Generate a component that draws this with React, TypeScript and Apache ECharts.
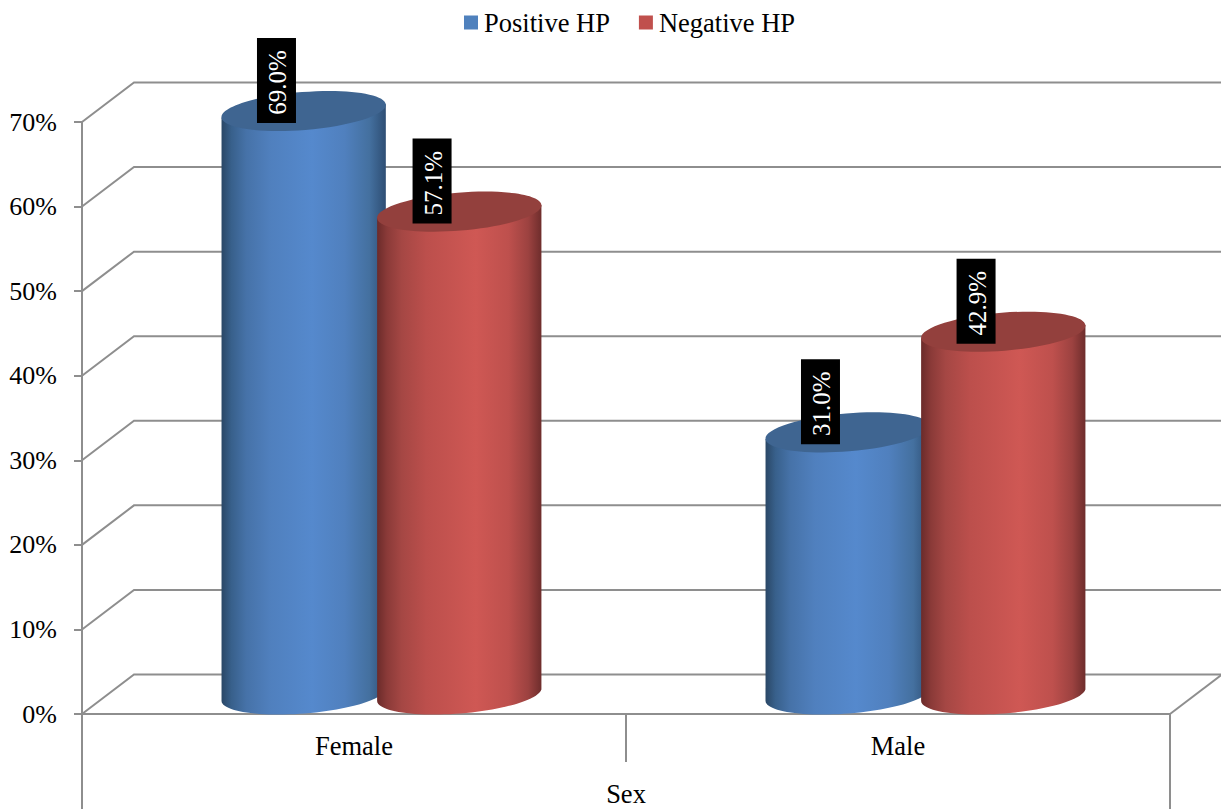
import React, { useEffect, useRef } from "react";
import * as echarts from "echarts";

const categories = ["Female", "Male"];
const positiveHp = [69.0, 31.0];
const negativeHp = [57.1, 42.9];
const gridValues = [0, 10, 20, 30, 40, 50, 60, 70];
const axisName = "Sex";
const seriesNames = ["Positive HP", "Negative HP"];

const FONT = '"Liberation Serif", "Times New Roman", serif';
const FONT_SIZE = 26.5;
const LINE = "#8e8e8e";
const DEPTH_X = 52;
const DEPTH_Y = -39.5;

type Palette = { swatch: string; cap: string; stops: [number, string][] };

const blue: Palette = {
  swatch: "#4F81BD",
  cap: "#3F6591",
  stops: [
    [0, "#2A4766"],
    [0.06, "#38608B"],
    [0.15, "#4672A8"],
    [0.3, "#5080BE"],
    [0.55, "#5589CD"],
    [0.75, "#5080BE"],
    [0.9, "#44709F"],
    [1, "#2E4E74"],
  ],
};

const red: Palette = {
  swatch: "#C0504D",
  cap: "#93403D",
  stops: [
    [0, "#6B2B2A"],
    [0.06, "#8A3A38"],
    [0.15, "#A54744"],
    [0.3, "#BC4F4C"],
    [0.6, "#CF5854"],
    [0.8, "#BE504D"],
    [0.92, "#9C4240"],
    [1, "#6E2D2C"],
  ],
};

// One cylinder plus its rotated value tag; shift moves it inside the category band.
function cylinder(palette: Palette, shift: number) {
  return (_params: any, api: any) => {
    const index = api.value(0);
    const value = api.value(1);
    const band = api.size([1, 0])[0];
    const [cx0, yTop] = api.coord([index, value]);
    const [, yBase] = api.coord([index, 0]);

    const rx = band * 0.1515;
    const ry = 19;
    const tilt = (-4.6 * Math.PI) / 180;
    const cx = cx0 + band * shift;
    const lift = -19.5;
    const topY = yTop + lift;
    const baseY = yBase + lift;
    const cosA = Math.cos(tilt);
    const sinA = Math.sin(tilt);

    // Outline: down the left side, round the lower rim, back up the right side.
    const outline: number[][] = [[cx - rx * cosA, topY - rx * sinA]];
    const steps = 48;
    for (let i = 0; i <= steps; i++) {
      const t = Math.PI - (Math.PI * i) / steps;
      outline.push([
        cx + rx * Math.cos(t) * cosA - ry * Math.sin(t) * sinA,
        baseY + rx * Math.cos(t) * sinA + ry * Math.sin(t) * cosA,
      ]);
    }
    outline.push([cx + rx * cosA, topY + rx * sinA]);

    const tagX = cx - band * 0.05;
    const tagY = yTop - 50;

    return {
      type: "group",
      children: [
        {
          type: "polygon",
          shape: { points: outline },
          style: {
            fill: new echarts.graphic.LinearGradient(
              0,
              0,
              1,
              0,
              palette.stops.map(([offset, color]) => ({ offset, color }))
            ),
          },
        },
        {
          type: "ellipse",
          x: cx,
          y: topY,
          rotation: -tilt,
          shape: { cx: 0, cy: 0, rx, ry },
          style: { fill: palette.cap },
        },
        {
          type: "rect",
          shape: { x: tagX - 19.5, y: tagY - 42.5, width: 39, height: 85 },
          style: { fill: "#000000" },
          z2: 10,
        },
        {
          type: "text",
          x: tagX + 1,
          y: tagY + 2,
          rotation: Math.PI / 2,
          z2: 11,
          style: {
            text: value.toFixed(1) + "%",
            fill: "#ffffff",
            font: `25px ${FONT}`,
            align: "center",
            verticalAlign: "middle",
          },
        },
      ],
    };
  };
}

// Back wall and floor lines, the diagonal depth edges and the outer frame verticals.
function wallLine(_params: any, api: any) {
  const value = api.value(1);
  const band = api.size([1, 0])[0];
  const [center, y] = api.coord([0, value]);
  const left = center - band / 2;
  const right = left + band * categories.length;
  const lineStyle = { stroke: LINE, lineWidth: 2, fill: "none" };
  const children: any[] = [
    {
      type: "polyline",
      shape: {
        points: [
          [left, y],
          [left + DEPTH_X, y + DEPTH_Y],
          [right + DEPTH_X, y + DEPTH_Y],
        ],
      },
      style: lineStyle,
    },
  ];
  if (value === 0) {
    const bottom = 809;
    children.push(
      {
        type: "line",
        shape: { x1: right, y1: y, x2: right + DEPTH_X, y2: y + DEPTH_Y },
        style: lineStyle,
      },
      { type: "line", shape: { x1: left, y1: y, x2: left, y2: bottom }, style: lineStyle },
      { type: "line", shape: { x1: right, y1: y, x2: right, y2: bottom }, style: lineStyle }
    );
  }
  return { type: "group", children };
}

export default function App() {
  const ref = useRef<HTMLDivElement>(null);

  useEffect(() => {
    if (!ref.current) return;
    const chart = echarts.init(ref.current, undefined, { renderer: "svg" });
    chart.setOption({
      animation: false,
      backgroundColor: "#ffffff",
      textStyle: { fontFamily: FONT },
      legend: {
        data: seriesNames,
        left: 464,
        top: 9,
        icon: "rect",
        itemWidth: 14,
        itemHeight: 14,
        itemGap: 29,
        padding: 0,
        selectedMode: false,
        textStyle: { fontFamily: FONT, fontSize: FONT_SIZE, color: "#000000", padding: [0, 0, 0, 1] },
      },
      grid: { left: 82, top: 122, width: 1088, height: 592, outerBoundsMode: "none" },
      xAxis: {
        type: "category",
        data: categories,
        name: axisName,
        nameLocation: "middle",
        nameGap: 66,
        nameTextStyle: { fontFamily: FONT, fontSize: FONT_SIZE, color: "#000000" },
        axisLine: { show: true, lineStyle: { color: LINE, width: 2 } },
        axisTick: { show: true, length: 48, alignWithLabel: false, lineStyle: { color: LINE, width: 2 } },
        axisLabel: { fontFamily: FONT, fontSize: FONT_SIZE, color: "#000000", margin: 18 },
        splitLine: { show: false },
      },
      yAxis: {
        type: "value",
        min: 0,
        max: 70,
        interval: 10,
        axisLine: { show: true, lineStyle: { color: LINE, width: 2 } },
        axisTick: { show: true, length: 8, lineStyle: { color: LINE, width: 2 } },
        axisLabel: {
          fontFamily: FONT,
          fontSize: 26,
          color: "#000000",
          margin: 25,
          padding: [3, 0, 0, 0],
          formatter: "{value}%",
        },
        splitLine: { show: false },
      },
      series: [
        {
          type: "custom",
          name: "grid",
          silent: true,
          z: 1,
          renderItem: wallLine,
          encode: { x: 0, y: 1 },
          data: gridValues.map((v) => [0, v]),
        },
        {
          type: "custom",
          name: seriesNames[0],
          z: 3,
          itemStyle: { color: blue.swatch },
          renderItem: cylinder(blue, -0.0925),
          encode: { x: 0, y: 1 },
          data: positiveHp.map((v, i) => [i, v]),
        },
        {
          type: "custom",
          name: seriesNames[1],
          z: 4,
          itemStyle: { color: red.swatch },
          renderItem: cylinder(red, 0.1935),
          encode: { x: 0, y: 1 },
          data: negativeHp.map((v, i) => [i, v]),
        },
      ],
    });
    return () => chart.dispose();
  }, []);

  return (
    <div
      ref={ref}
      style={{ position: "fixed", left: 0, top: 0, width: 1221, height: 809 }}
    />
  );
}
